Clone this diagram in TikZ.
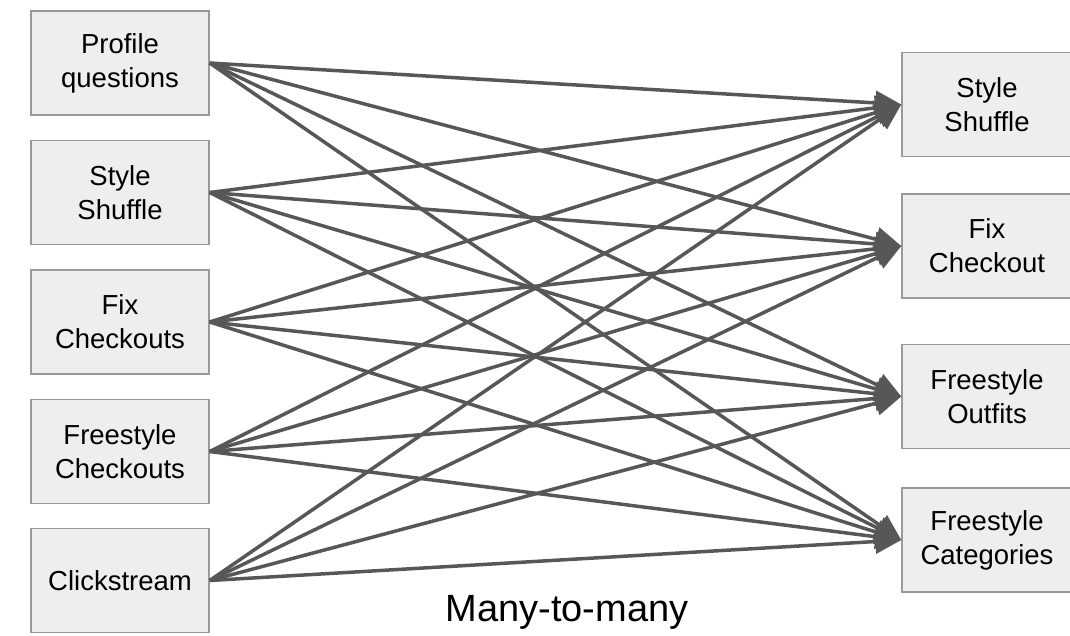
\documentclass[tikz,border=0pt]{standalone}
\usepackage{fontspec}
\setmainfont{Liberation Sans}
\usetikzlibrary{arrows.meta}
\definecolor{boxfill}{HTML}{EEEEEE}
\definecolor{boxline}{HTML}{999999}
\definecolor{arrowcol}{HTML}{575757}
\begin{document}
\begin{tikzpicture}[x=1pt,y=-1pt,
  srcbox/.style={draw=boxline,fill=boxfill,line width=1.4pt,minimum width=178pt,minimum height=104pt,inner sep=0pt,align=center,font=\fontsize{27.5}{34}\selectfont},
  dstbox/.style={srcbox,minimum width=170pt},
  link/.style={draw=arrowcol,line width=3.5pt,-{Triangle[length=26pt,width=24pt]}}]
\useasboundingbox (0,0) rectangle (1070,635);
\node[srcbox] (l1) at (120,63) {Profile\\questions};
\node[srcbox] (l2) at (120,192.5) {Style\\Shuffle};
\node[srcbox] (l3) at (120,322) {Fix\\Checkouts};
\node[srcbox] (l4) at (120,451.5) {Freestyle\\Checkouts};
\node[srcbox] (l5) at (120,580.5) {Clickstream};
\node[dstbox] (r1) at (987,104.5) {Style\\Shuffle};
\node[dstbox] (r2) at (987,246) {Fix\\Checkout};
\node[dstbox] (r3) at (987,396.5) {Freestyle\\Outfits};
\node[dstbox] (r4) at (987,540) {Freestyle\\Categories};
\foreach \s in {1,...,5}{
  \foreach \t in {1,...,4}{
    \draw[link] (l\s.east) -- (r\t.west);
  }
}
\node[font=\fontsize{38}{44}\selectfont,anchor=base] (lbl) at (567,621) {Many-to-many};
\end{tikzpicture}
\end{document}
